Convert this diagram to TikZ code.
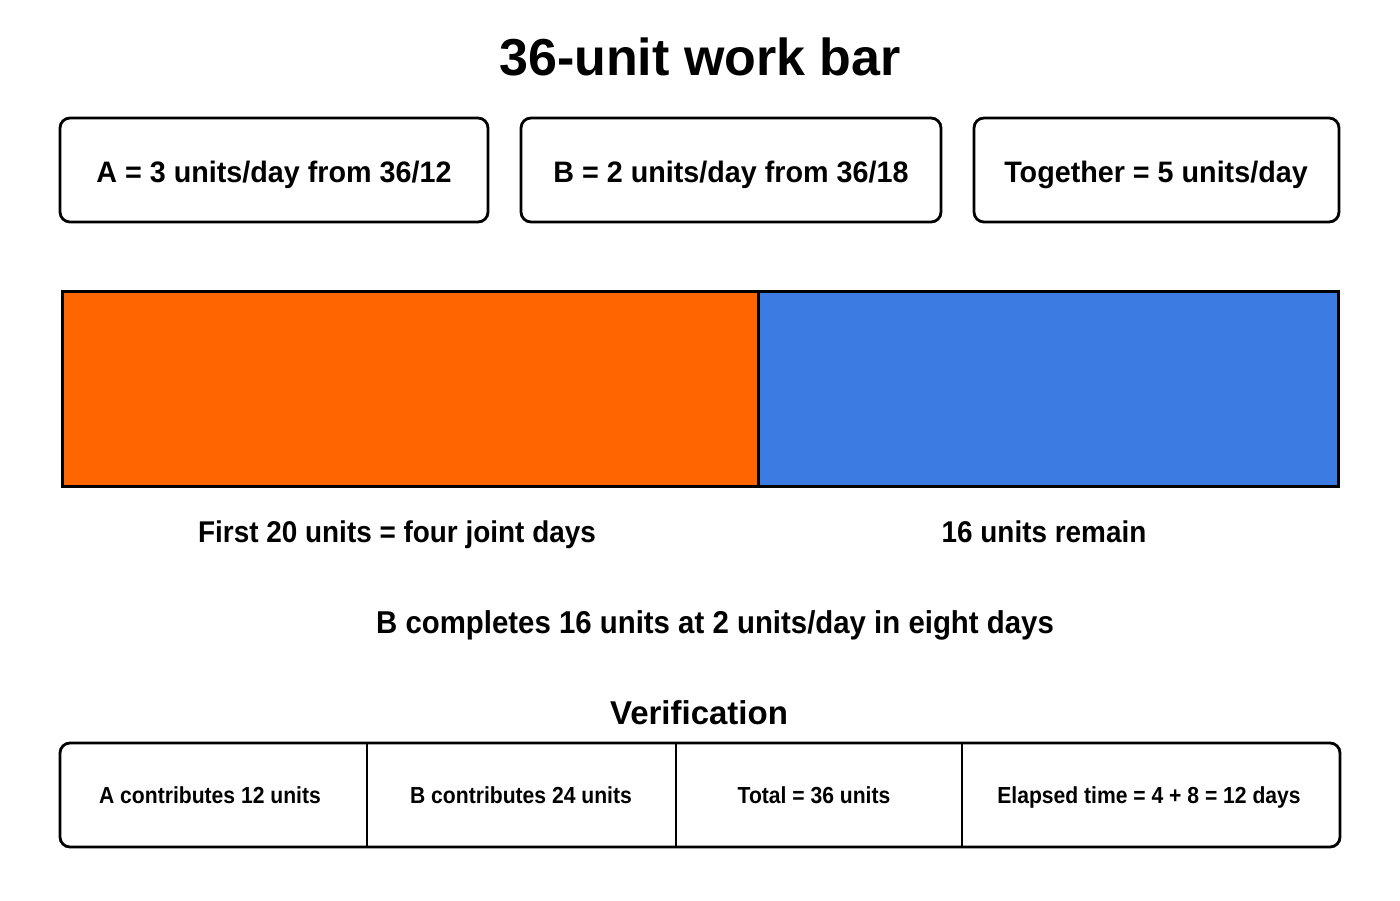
\documentclass[tikz,border=0pt]{standalone}
\usepackage{fontspec}
\setmainfont{Liberation Sans}
\newfontfamily\boxfont[FakeStretch=0.97]{Liberation Sans}
\newfontfamily\labfont[FakeStretch=0.93]{Liberation Sans}
\newfontfamily\cellfont[FakeStretch=0.91]{Liberation Sans}
\definecolor{barorange}{HTML}{FF6600}
\definecolor{barblue}{HTML}{3B7BE2}
\begin{document}
\begin{tikzpicture}[x=0.5pt,y=-0.5pt,
  topbox/.style={draw=black,line width=1.4pt,rounded corners=5pt,fill=white},
  boxtext/.style={anchor=base,font=\boxfont\bfseries\fontsize{14.8}{17}\selectfont},
  labeltext/.style={anchor=base,font=\labfont\bfseries\fontsize{15}{17}\selectfont},
  celltext/.style={anchor=base,font=\cellfont\bfseries\fontsize{11.6}{14}\selectfont},
  barpart/.style={draw=black,line width=1.5pt}]
\useasboundingbox[fill=white] (0,0) rectangle (1400,900);
% title
\node[font=\fontsize{26}{30}\selectfont\bfseries] (title) at (700,57) {36-unit work bar};
% top boxes
\draw[topbox] (60,118) rectangle (488,222);
\node[boxtext] (boxA) at (274,182) {A = 3 units/day from 36/12};
\draw[topbox] (521,118) rectangle (941,222);
\node[boxtext] (boxB) at (731,182) {B = 2 units/day from 36/18};
\draw[topbox] (974,118) rectangle (1339,222);
\node[boxtext] (boxT) at (1156,182) {Together = 5 units/day};
% bar
\fill[barorange] (62,291) rectangle (758,486);
\fill[barblue] (758,291) rectangle (1338,486);
\draw[barpart] (62,291) rectangle (1338,486);
\draw[barpart] (758,291) -- (758,486);
\node[labeltext] (first) at (397,542) {First 20 units = four joint days};
\node[labeltext] (remain) at (1044,542) {16 units remain};
\node[labeltext,font=\labfont\bfseries\fontsize{15.8}{18}\selectfont] (bcomp) at (715,633) {B completes 16 units at 2 units/day in eight days};
\node[font=\fontsize{16.5}{20}\selectfont\bfseries] (verif) at (699,713) {Verification};
% table
\draw[topbox] (60,743) rectangle (1340,847);
\draw[line width=1.4pt] (367,743) -- (367,847);
\draw[line width=1.4pt] (676,743) -- (676,847);
\draw[line width=1.4pt] (962,743) -- (962,847);
\node[celltext] (c1) at (210,803) {A contributes 12 units};
\node[celltext] (c2) at (521,803) {B contributes 24 units};
\node[celltext] (c3) at (814,803) {Total = 36 units};
\node[celltext] (c4) at (1149,803) {Elapsed time = 4 + 8 = 12 days};
\end{tikzpicture}
\end{document}
